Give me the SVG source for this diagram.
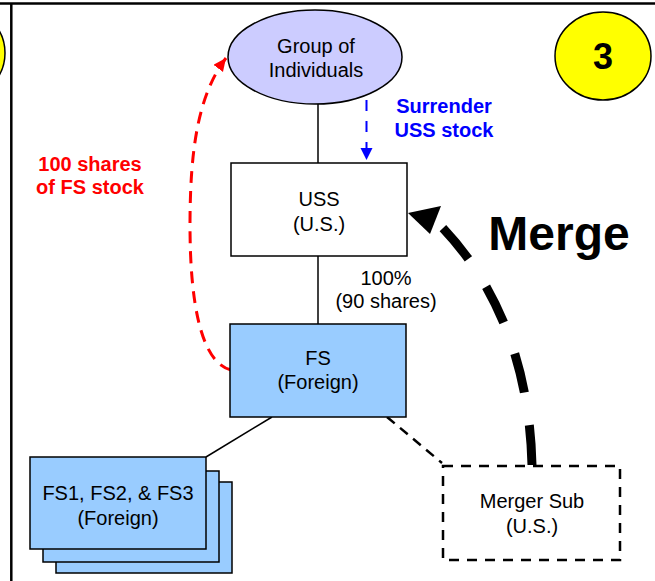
<svg xmlns="http://www.w3.org/2000/svg" width="655" height="581" viewBox="0 0 655 581">
<style>
text{font-family:"Liberation Sans",Arial,sans-serif;font-size:20px;text-anchor:middle;fill:#000}
.box{stroke:#000;stroke-width:1.5}
.blue{fill:#99CCFF}
.b{font-weight:bold}
</style>
<defs>
<marker id="redHead" markerUnits="userSpaceOnUse" markerWidth="16" markerHeight="14" refX="13" refY="6" orient="auto">
<path d="M0,0 L13,6 L0,12 Z" fill="#FF0000"/>
</marker>
<marker id="blueHead" markerUnits="userSpaceOnUse" markerWidth="14" markerHeight="14" refX="12" refY="6" orient="auto">
<path d="M0,0 L12,6 L0,12 Z" fill="#0000FF"/>
</marker>
</defs>
<rect width="655" height="581" fill="#fff"/>
<line x1="0" y1="3.5" x2="655" y2="3.5" stroke="#000" stroke-width="2.5"/>
<line x1="11.3" y1="3" x2="11.3" y2="581" stroke="#000" stroke-width="2.5"/>
<circle cx="-40" cy="53" r="45" fill="#FFFF00" stroke="#000" stroke-width="1.5"/>
<g id="step3">
<ellipse cx="603" cy="56" rx="48" ry="44" fill="#FFFF00" stroke="#000" stroke-width="1.5"/>
<text x="603" y="69" class="b" style="font-size:36px">3</text>
</g>
<g id="connectors">
<line x1="318" y1="104" x2="318" y2="163" stroke="#000" stroke-width="1.5"/>
<line x1="318" y1="256" x2="318" y2="324" stroke="#000" stroke-width="1.5"/>
<line x1="272" y1="417" x2="206" y2="457" stroke="#000" stroke-width="1.5"/>
<line x1="387" y1="417" x2="442" y2="463" stroke="#000" stroke-width="2.5" stroke-dasharray="10 7"/>
<line x1="366.5" y1="100" x2="366.5" y2="160" stroke="#0000FF" stroke-width="2" stroke-dasharray="11 10" marker-end="url(#blueHead)"/>
<path d="M231 370 C200 362 190 300 190 225 C190 150 198 95 226 58" fill="none" stroke="#FF0000" stroke-width="3" stroke-dasharray="12 8" marker-end="url(#redHead)"/>
<path d="M532 465 C530 380 505 290 437 222" fill="none" stroke="#000" stroke-width="9" stroke-dasharray="40 33"/>
<polygon points="408,213 430,234 441,206" fill="#000"/>
</g>
<g id="group">
<ellipse cx="315" cy="57" rx="87" ry="47" fill="#CCCCFF" stroke="#000" stroke-width="1.5"/>
<text x="316" y="53">Group of</text>
<text x="316" y="77">Individuals</text>
</g>
<g id="surrender-label">
<text x="444" y="113" class="b" style="fill:#0000FF">Surrender</text>
<text x="444" y="137" class="b" style="fill:#0000FF">USS stock</text>
</g>
<g id="fs-stock-label">
<text x="90" y="171" class="b" style="fill:#FF0000">100 shares</text>
<text x="90" y="194" class="b" style="fill:#FF0000">of FS stock</text>
</g>
<g id="USS">
<rect x="231" y="163" width="176" height="93" fill="#fff" class="box"/>
<text x="319" y="206">USS</text>
<text x="319" y="231">(U.S.)</text>
</g>
<g id="ownership-label">
<text x="386" y="285">100%</text>
<text x="386" y="308">(90 shares)</text>
</g>
<g id="merge-label">
<text x="559" y="250" class="b" style="font-size:48px">Merge</text>
</g>
<g id="FS">
<rect x="230" y="324" width="176" height="93" class="box blue"/>
<text x="318" y="365">FS</text>
<text x="318" y="389">(Foreign)</text>
</g>
<g id="FS123">
<rect x="56" y="482" width="176" height="91" class="box blue"/>
<rect x="43" y="471" width="176" height="91" class="box blue"/>
<rect x="30" y="457" width="176" height="92" class="box blue"/>
<text x="118" y="500">FS1, FS2, &amp; FS3</text>
<text x="118" y="525">(Foreign)</text>
</g>
<g id="MergerSub">
<rect x="443" y="466" width="177" height="94" fill="#fff" stroke="#000" stroke-width="2.5" stroke-dasharray="10 8"/>
<text x="532" y="508">Merger Sub</text>
<text x="532" y="533">(U.S.)</text>
</g>
</svg>
